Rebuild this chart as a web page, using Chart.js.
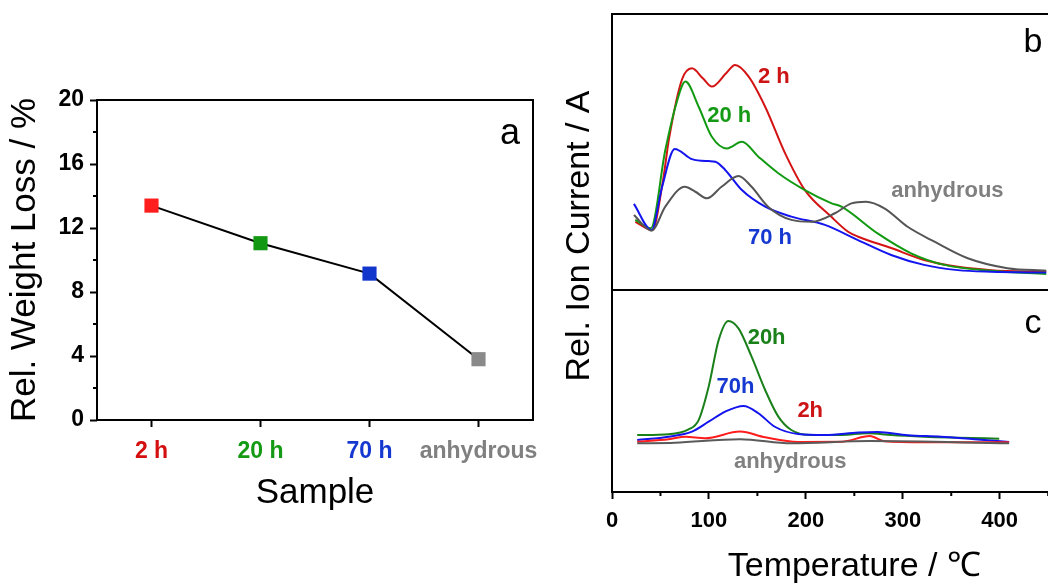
<!DOCTYPE html>
<html>
<head>
<meta charset="utf-8">
<script src="https://cdn.jsdelivr.net/npm/chart.js@4.4.0/dist/chart.umd.min.js"></script>
<style>
  html, body { margin:0; padding:0; background:#fff; overflow:hidden; width:1048px; height:583px; }
  #panel-a { position:absolute; left:0; top:0; }
  #panel-bc { position:absolute; left:560px; top:0; }
</style>
</head>
<body>
<canvas id="panel-a" width="560" height="583"></canvas>
<canvas id="panel-bc" width="564" height="600"></canvas>
<script>
const FONT = "'Liberation Sans', Arial, Helvetica, sans-serif";

// ----- Panel a data -----
const samples = ['2 h', '20 h', '70 h', 'anhydrous'];
const weightLoss = [13.4, 11.05, 9.15, 3.8];
const sampleColors = ['#d40f0f', '#159a15', '#1538d0', '#808080'];
const markerColors = ['#ff1d1d', '#129812', '#1235cc', '#8a8a8a'];

// ----- Panel b data (temperature / °C, relative ion current) -----
const b2hTemp = [24, 41.5, 52.7, 58.6, 72, 82.5, 93.7, 103, 117.7, 127, 141, 158, 178.5, 199, 226, 243.6, 254, 288, 322, 357, 391, 448];
const b2hSig  = [24.7, 21.7, 39.9, 54.3, 76.1, 80.3, 76.7, 73.7, 78.5, 81.5, 77.3, 66.4, 49.6, 36.2, 26.6, 21.1, 19.3, 15.2, 10.9, 8.4, 7.2, 6.6];
const b20hTemp = [24, 40, 55, 66.4, 75.7, 89.4, 103, 118.5, 134, 151, 171.6, 199, 226, 236.7, 274, 308.6, 343, 391, 448];
const b20hSig  = [25.4, 22.4, 50.7, 67.6, 75.5, 66.4, 55.5, 51.3, 53.7, 48.3, 42.3, 36.2, 31.5, 30.2, 20.5, 13.3, 9.1, 7.0, 5.8];
const b70hTemp = [22.6, 40.8, 51.7, 64.7, 82.5, 99.7, 106.6, 116.8, 134, 158, 185, 219.6, 253.8, 288, 322, 356.6, 391, 448];
const b70hSig  = [31.2, 21.7, 37.4, 51.1, 47.4, 46.7, 46.5, 43.5, 36.2, 30.2, 26.6, 23.6, 18.1, 12.7, 9.1, 7.2, 6.6, 6.3];
const bAnhTemp = [22.6, 40.8, 55, 75, 86, 98, 113, 130.5, 144, 161, 185, 206, 230, 247, 262, 281, 305, 332.7, 367, 408, 448];
const bAnhSig  = [27.2, 21.5, 30.2, 37.4, 35.6, 33.2, 37.4, 41.3, 37.4, 30.2, 25.4, 24.7, 27.8, 31.4, 32.0, 29.6, 22.9, 17.5, 11.5, 7.9, 7.0];

// ----- Panel c data -----
const c20hTemp = [26, 58.6, 79, 89.4, 99.7, 110, 120, 130.5, 144, 158, 171.6, 185, 206, 237, 264, 288, 322, 357, 399.5];
const c20hSig  = [28.2, 28.6, 31.0, 35.6, 52.1, 75.2, 84.7, 81.0, 67.0, 50.5, 37.3, 30.7, 28.2, 28.2, 29.1, 28.2, 27.4, 26.9, 26.4];
const c70hTemp = [26, 58.6, 82.5, 99.7, 116.8, 135.7, 151, 168, 192, 219.6, 254, 274, 305, 339.5, 373.8, 409.7];
const c70hSig  = [25.7, 27.4, 29.9, 34.8, 39.8, 42.6, 39.0, 32.3, 28.7, 28.2, 29.4, 29.7, 28.1, 27.4, 26.1, 24.8];
const c2hTemp = [26, 58.6, 75.7, 96, 132, 158, 192, 237, 266, 281, 322, 409.7];
const c2hSig  = [24.9, 26.1, 27.4, 26.6, 29.9, 27.1, 24.8, 24.9, 27.7, 25.1, 24.6, 24.6];
const cAnhTemp = [26, 65, 132, 185, 266, 409.7];
const cAnhSig  = [24.1, 24.4, 26.1, 24.1, 25.2, 24.1];

// curve labels: [text, temperature, signal, color]
const bLabels = [['2 h', 167, 77.2, '#cc1414'], ['20 h', 121, 63.0, '#159a15'], ['70 h', 163, 19.0, '#1538d0'], ['anhydrous', 346, 35.9, '#7f7f7f']];
const cLabels = [['20h', 159.5, 76.5, '#1a801a'], ['70h', 127.3, 52.0, '#1538d0'], ['2h', 204.5, 40.3, '#cc1414'], ['anhydrous', 183.8, 14.9, '#808080']];

function pts(t, v) { return t.map((x, i) => ({x: x, y: v[i]})); }

// ----- Panel a -----
const panelAFrame = {
  id: 'panelAFrame',
  afterDraw(chart) {
    const ctx = chart.ctx, a = chart.chartArea, ys = chart.scales.y;
    ctx.save();
    ctx.strokeStyle = '#000';
    ctx.lineWidth = 2;
    ctx.strokeRect(a.left, a.top, a.right - a.left, a.bottom - a.top);
    // minor ticks
    [2, 6, 10, 14, 18].forEach(v => {
      const y = ys.getPixelForValue(v);
      ctx.beginPath(); ctx.moveTo(a.left - 4, y); ctx.lineTo(a.left, y); ctx.stroke();
    });
    ctx.fillStyle = '#000';
    ctx.font = '36px ' + FONT;
    ctx.textAlign = 'center'; ctx.textBaseline = 'middle';
    ctx.fillText('a', 510, 134);
    ctx.restore();
  }
};

new Chart(document.getElementById('panel-a'), {
  type: 'line',
  data: {
    labels: samples,
    datasets: [{
      data: weightLoss,
      borderColor: '#000',
      borderWidth: 2,
      tension: 0,
      pointStyle: 'rect',
      pointRadius: 10,
      pointHoverRadius: 10,
      pointBorderWidth: 0,
      pointBackgroundColor: markerColors,
      pointBorderColor: markerColors
    }]
  },
  options: {
    responsive: false,
    animation: false,
    devicePixelRatio: 1,
    layout: { padding: { top: 100, right: 27, left: 0, bottom: 0 } },
    plugins: { legend: { display: false }, tooltip: { enabled: false } },
    scales: {
      x: {
        offset: true,
        grid: { drawOnChartArea: false, offset: false, tickLength: 7, tickWidth: 2, tickColor: '#000' },
        border: { display: false },
        ticks: { padding: 11, autoSkip: false, maxRotation: 0, minRotation: 0, color: c => sampleColors[c.index], font: { family: FONT, size: 23, weight: 'bold' } },
        title: { display: true, text: 'Sample', color: '#000', font: { family: FONT, size: 35 }, padding: { top: 0, bottom: 69 } },
        afterFit: s => { s.height = 163; }
      },
      y: {
        min: 0, max: 20,
        ticks: { stepSize: 4, padding: 6, color: '#000', font: { family: FONT, size: 23, weight: 'bold' } },
        grid: { drawOnChartArea: false, tickLength: 7, tickWidth: 2, tickColor: '#000' },
        border: { display: false },
        title: { display: true, text: 'Rel. Weight Loss / %', color: '#000', font: { family: FONT, size: 35 }, padding: { top: 4, bottom: 0 } },
        afterFit: s => { s.width = 97; }
      }
    }
  },
  plugins: [panelAFrame]
});

// ----- Panels b and c -----
const bcFrame = {
  id: 'bcFrame',
  afterDraw(chart) {
    const ctx = chart.ctx, a = chart.chartArea;
    const xs = chart.scales.x, yb = chart.scales.yB, yc = chart.scales.yC;
    ctx.save();
    ctx.strokeStyle = '#000';
    ctx.lineWidth = 2;
    ctx.strokeRect(a.left, a.top, a.right - a.left, a.bottom - a.top);
    ctx.beginPath(); ctx.moveTo(a.left, yb.bottom); ctx.lineTo(a.right, yb.bottom); ctx.stroke();
    [50, 150, 250, 350, 450].forEach(t => {
      const x = xs.getPixelForValue(t);
      ctx.beginPath(); ctx.moveTo(x, a.bottom); ctx.lineTo(x, a.bottom + 4); ctx.stroke();
    });
    ctx.textAlign = 'center'; ctx.textBaseline = 'middle';
    ctx.font = 'bold 22px ' + FONT;
    bLabels.forEach(l => {
      ctx.fillStyle = l[3];
      ctx.fillText(l[0], xs.getPixelForValue(l[1]), yb.getPixelForValue(l[2]));
    });
    cLabels.forEach(l => {
      ctx.fillStyle = l[3];
      ctx.fillText(l[0], xs.getPixelForValue(l[1]), yc.getPixelForValue(l[2]));
    });
    ctx.fillStyle = '#000';
    ctx.font = '34px ' + FONT;
    ctx.fillText('b', 473, 43);
    ctx.fillText('c', 473, 324);
    ctx.translate(20, 236);
    ctx.rotate(-Math.PI / 2);
    ctx.fillText('Rel. Ion Current / A', 0, 0);
    ctx.restore();
  }
};

function series(t, v, color, axis) {
  return { data: pts(t, v), borderColor: color, yAxisID: axis, borderWidth: 2, pointRadius: 0, cubicInterpolationMode: 'monotone' };
}

new Chart(document.getElementById('panel-bc'), {
  type: 'line',
  data: {
    datasets: [
      series(bAnhTemp, bAnhSig, '#555555', 'yB'),
      series(b70hTemp, b70hSig, '#1414ee', 'yB'),
      series(b20hTemp, b20hSig, '#129a12', 'yB'),
      series(b2hTemp, b2hSig, '#d41414', 'yB'),
      series(cAnhTemp, cAnhSig, '#5a5a5a', 'yC'),
      series(c2hTemp, c2hSig, '#ff1c1c', 'yC'),
      series(c70hTemp, c70hSig, '#1414ee', 'yC'),
      series(c20hTemp, c20hSig, '#1a801a', 'yC')
    ]
  },
  options: {
    responsive: false,
    animation: false,
    devicePixelRatio: 1,
    layout: { padding: { top: 14, right: 25, left: 0, bottom: 0 } },
    plugins: { legend: { display: false }, tooltip: { enabled: false } },
    scales: {
      x: {
        type: 'linear', min: 0, max: 500,
        ticks: { stepSize: 100, padding: 9, color: '#000', font: { family: FONT, size: 22, weight: 'bold' } },
        grid: { drawOnChartArea: false, tickLength: 7, tickWidth: 2, tickColor: '#000' },
        border: { display: false },
        title: { display: true, text: 'Temperature / ℃', color: '#000', font: { family: FONT, size: 34 }, padding: { top: 0, bottom: 13 } },
        afterFit: s => { s.height = 108; }
      },
      // stacked: listed bottom panel first so that panel b ends up on top
      yC: {
        type: 'linear', position: 'left', stack: 'ion', stackWeight: 202, min: 0, max: 100,
        ticks: { display: false }, grid: { display: false }, border: { display: false },
        afterFit: s => { s.width = 52; }
      },
      yB: {
        type: 'linear', position: 'left', stack: 'ion', stackWeight: 276, min: 0, max: 100,
        ticks: { display: false }, grid: { display: false }, border: { display: false },
        afterFit: s => { s.width = 52; }
      }
    }
  },
  plugins: [bcFrame]
});
</script>
</body>
</html>
